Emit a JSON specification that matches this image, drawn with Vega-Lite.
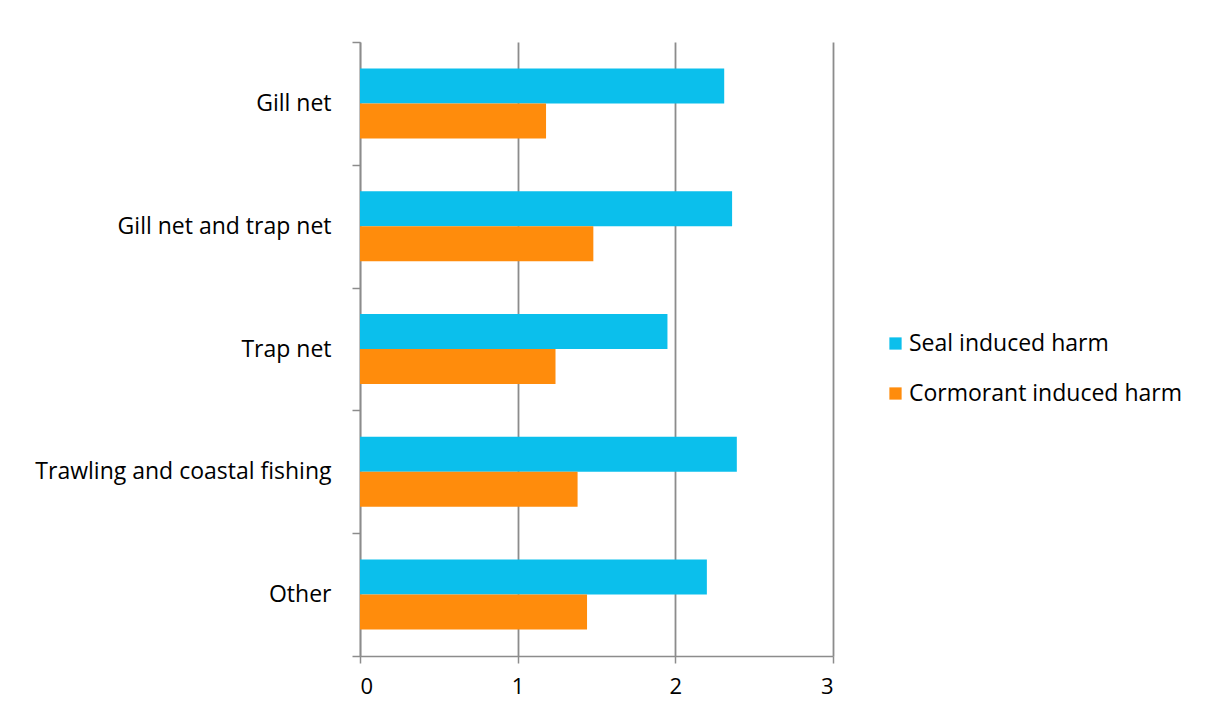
{
  "$schema": "https://vega.github.io/schema/vega-lite/v6.json",
  "width": 473,
  "height": 614,
  "autosize": {"type": "none"},
  "padding": {"left": 360, "top": 42, "right": 375, "bottom": 68},
  "background": "white",
  "data": {
    "values": [
      {"category": "Gill net", "series": "Seal induced harm", "value": 2.31},
      {"category": "Gill net", "series": "Cormorant induced harm", "value": 1.18},
      {"category": "Gill net and trap net", "series": "Seal induced harm", "value": 2.36},
      {"category": "Gill net and trap net", "series": "Cormorant induced harm", "value": 1.48},
      {"category": "Trap net", "series": "Seal induced harm", "value": 1.95},
      {"category": "Trap net", "series": "Cormorant induced harm", "value": 1.24},
      {"category": "Trawling and coastal fishing", "series": "Seal induced harm", "value": 2.39},
      {"category": "Trawling and coastal fishing", "series": "Cormorant induced harm", "value": 1.38},
      {"category": "Other", "series": "Seal induced harm", "value": 2.2},
      {"category": "Other", "series": "Cormorant induced harm", "value": 1.44}
    ]
  },
  "mark": {"type": "bar"},
  "encoding": {
    "y": {
      "field": "category",
      "type": "nominal",
      "sort": ["Gill net", "Gill net and trap net", "Trap net", "Trawling and coastal fishing", "Other"],
      "scale": {"paddingInner": 0, "paddingOuter": 0},
      "axis": {
        "title": null,
        "tickBand": "extent",
        "domainColor": "#8c8c8c",
        "domainWidth": 1.5,
        "tickColor": "#8c8c8c",
        "tickWidth": 1.5,
        "tickSize": 8,
        "labelPadding": 21,
        "labelFont": "Open Sans",
        "labelFontSize": 23,
        "labelColor": "#000000",
        "labelLimit": 400
      }
    },
    "yOffset": {
      "field": "series",
      "type": "nominal",
      "sort": ["Seal induced harm", "Cormorant induced harm"],
      "scale": {"paddingInner": 0, "paddingOuter": 0.754}
    },
    "x": {
      "field": "value",
      "type": "quantitative",
      "scale": {"domain": [0, 3], "nice": false},
      "axis": {
        "title": null,
        "values": [0, 1, 2, 3],
        "format": "d",
        "grid": true,
        "gridColor": "#8c8c8c",
        "gridWidth": 1.8,
        "domainColor": "#8c8c8c",
        "domainWidth": 1.5,
        "tickColor": "#8c8c8c",
        "tickWidth": 1.5,
        "tickSize": 7,
        "labelPadding": 13,
        "labelFont": "Open Sans",
        "labelFontSize": 22,
        "labelColor": "#000000"
      }
    },
    "color": {
      "field": "series",
      "type": "nominal",
      "sort": ["Seal induced harm", "Cormorant induced harm"],
      "scale": {"domain": ["Seal induced harm", "Cormorant induced harm"], "range": ["#0BBFEC", "#FF8C0C"]},
      "legend": {
        "title": null,
        "orient": "none",
        "legendX": 524,
        "legendY": 290,
        "symbolType": "square",
        "symbolSize": 150,
        "symbolStrokeWidth": 0,
        "labelFont": "Open Sans",
        "labelFontSize": 23,
        "labelColor": "#000000",
        "labelOffset": 2,
        "rowPadding": 26,
        "labelLimit": 400
      }
    }
  },
  "config": {"view": {"stroke": null}}
}
